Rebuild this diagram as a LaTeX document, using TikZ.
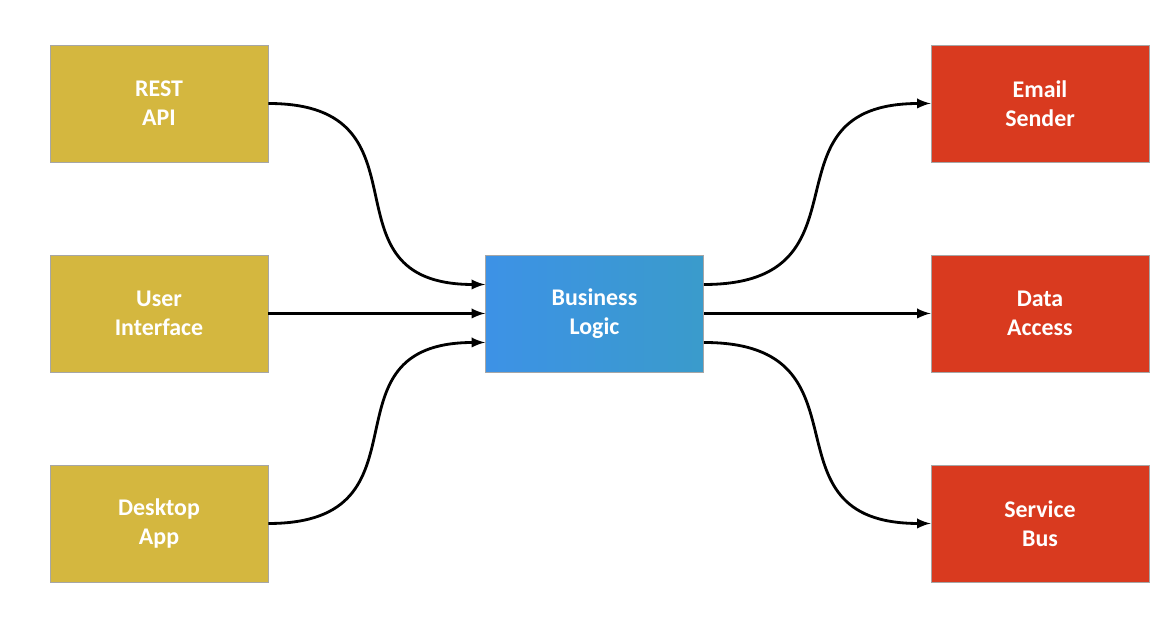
\documentclass[tikz,border=0pt]{standalone}
\usepackage{fontspec}
\setmainfont{Carlito}
\usepackage{xcolor}
\usepackage{tikz}
\usetikzlibrary{positioning}

\definecolor{clientyellow}{HTML}{D4B73F}
\definecolor{serviceRed}{HTML}{D93A1F}
\definecolor{logicblue}{HTML}{3D92E6}
\definecolor{logicteal}{HTML}{3A9BCB}

\begin{document}
\begin{tikzpicture}[x=0.02cm, y=0.02cm,
  box/.style={rectangle, draw=black!35, line width=0.5pt, minimum width=4.36cm, minimum height=2.34cm, text=white, font=\bfseries\fontsize{13.6}{16.5}\selectfont, align=center},
  client/.style={box, fill=clientyellow},
  service/.style={box, fill=serviceRed},
  link/.style={line width=1.6pt, -latex}]
\useasboundingbox (0,0) rectangle (1170,638);

\node[client] at (159.0, 534.5) (rest) {REST\\API};
\node[client] at (159.0, 324.5) (ui) {User\\Interface};
\node[client] at (159.0, 114.5) (desktop) {Desktop\\App};
\node[box, left color=logicblue, right color=logicteal] at (594.5, 324.5) (logic) {Business\\Logic};
\node[service] at (1040.0, 534.5) (email) {Email\\Sender};
\node[service] at (1040.0, 324.5) (data) {Data\\Access};
\node[service] at (1040.0, 114.5) (bus) {Service\\Bus};

\draw[link] (rest.east) to[out=0, in=180, looseness=1.55] ([yshift=0.58cm]logic.west);
\draw[link] (ui.east) -- (logic.west);
\draw[link] (desktop.east) to[out=0, in=180, looseness=1.55] ([yshift=-0.58cm]logic.west);
\draw[link] ([yshift=0.58cm]logic.east) to[out=0, in=180, looseness=1.55] (email.west);
\draw[link] (logic.east) -- (data.west);
\draw[link] ([yshift=-0.58cm]logic.east) to[out=0, in=180, looseness=1.55] (bus.west);

\end{tikzpicture}
\end{document}
